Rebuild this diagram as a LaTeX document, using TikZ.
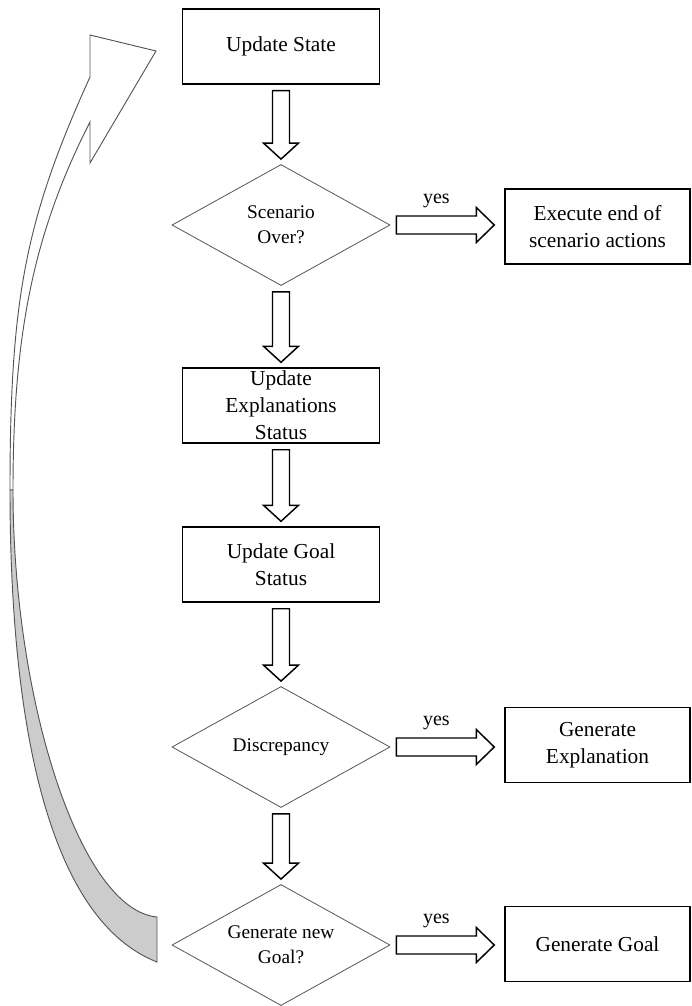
\documentclass[tikz,border=0pt]{standalone}
\usepackage{fontspec}
\setmainfont{Liberation Serif}
\usetikzlibrary{shapes.geometric,calc,positioning}
\definecolor{bandgray}{HTML}{CCCCCC}
\definecolor{edgegray}{HTML}{555555}
\tikzset{
  processbox/.style={draw=black,line width=1.1pt,align=center,inner xsep=2pt,inner ysep=0pt,
    minimum width=147.75pt,minimum height=56.25pt,font=\fontsize{16}{20.25}\selectfont},
  resultbox/.style={processbox,minimum width=138.75pt},
  decisionbox/.style={diamond,draw=edgegray,line width=0.6pt,align=center,inner sep=0pt,
    aspect=1.8,minimum width=163.5pt,minimum height=90.75pt,font=\fontsize{14.5}{19}\selectfont},
  blockarrow/.style={draw=black,line width=1.1pt,fill=white,line join=miter},
  yeslabel/.style={font=\fontsize{15}{18}\selectfont,inner sep=0pt,anchor=south},
  loopband/.style={draw=edgegray,line width=0.7pt}
}
% hollow arrow going down from #1 to #2
\newcommand{\fatdown}[2]{%
  \draw[blockarrow] ($(#1.south)+(-8.5,6)$) -- ($(#1.south)+(8.5,6)$)
    -- ($(#1.south |- #2.north)+(8.5,-21)$) -- ($(#1.south |- #2.north)+(17.5,-21)$)
    -- ($(#1.south |- #2.north)+(0,-5)$)
    -- ($(#1.south |- #2.north)+(-17.5,-21)$) -- ($(#1.south |- #2.north)+(-8.5,-21)$) -- cycle;}
% hollow arrow going right from #1 to #2, with its yes
\newcommand{\fatright}[2]{%
  \draw[blockarrow] ($(#1.east)+(6,-9)$) -- ($(#2.west |- #1.east)+(-28,-9)$)
    -- ($(#2.west |- #1.east)+(-28,-17.5)$) -- ($(#2.west |- #1.east)+(-10,0)$)
    -- ($(#2.west |- #1.east)+(-28,17.5)$) -- ($(#2.west |- #1.east)+(-28,9)$)
    -- ($(#1.east)+(6,9)$) -- cycle;
  \coordinate (yesa) at ($(#1.east)+(6,-17)$);
  \coordinate (yesb) at ($(#2.west |- #1.east)+(-28,-17)$);
  \node[yeslabel] at ($(yesa)!0.5!(yesb)$) {yes};}

\begin{document}
\begin{tikzpicture}[x=0.75pt,y=-0.75pt]
  \useasboundingbox (0,0) rectangle (692,1006);

  % loop back to the top
  \draw[loopband,fill=white] (90,77) .. controls (25,220) and (10,300) .. (10,490)
    -- (13,490) .. controls (13,330) and (35,230) .. (90,122)
    -- (90,163) -- (156,51) -- (90,35) -- cycle;
  \draw[loopband,fill=bandgray] (10,490) .. controls (10,730) and (50,920) .. (157,962)
    -- (157,917) .. controls (80,910) and (13,700) .. (13,490) -- cycle;

  % main column
  \node[processbox] (state) at (281,46.5) {Update State};
  \node[decisionbox] (scenario) at (281,225) {Scenario\\Over?};
  \node[processbox] (explstatus) at (281,405.5) {Update\\Explanations\\Status};
  \node[processbox] (goalstatus) at (281,564.5) {Update Goal\\Status};
  \node[decisionbox] (discrep) at (281,747) {Discrepancy};
  \node[decisionbox] (newgoal) at (281,945) {Generate new\\Goal?};

  % right column
  \node[resultbox] (endacts) at (597.5,226.5) {Execute end of\\scenario actions};
  \node[resultbox] (genexpl) at (597.5,745) {Generate\\Explanation};
  \node[resultbox] (gengoal) at (597.5,944) {Generate Goal};

  \fatdown{state}{scenario}
  \fatdown{scenario}{explstatus}
  \fatdown{explstatus}{goalstatus}
  \fatdown{goalstatus}{discrep}
  \fatdown{discrep}{newgoal}

  \fatright{scenario}{endacts}
  \fatright{discrep}{genexpl}
  \fatright{newgoal}{gengoal}
\end{tikzpicture}
\end{document}
